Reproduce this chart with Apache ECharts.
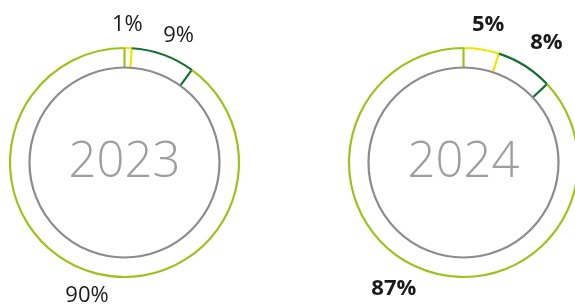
<!DOCTYPE html>
<html><head><meta charset="utf-8">
<script src="https://cdn.jsdelivr.net/npm/echarts@6/dist/echarts.min.js"></script>
<style>html,body{margin:0;padding:0;background:#fff}#c{width:575px;height:305px}</style>
</head><body><div id="c"></div>
<script>
// ---- data ----
const years = ['2023', '2024'];
const segmentNames = ['Yellow', 'Dark green', 'Light green'];
const values2023 = [1, 9, 90];
const values2024 = [5, 8, 87];
const labels2023 = ['1%', '9%', '90%'];
const labels2024 = ['5%', '8%', '87%'];

// ---- styles ----
const segColors = ['#f2e400', '#156f38', '#9cc31c'];
const ringGrey = '#8c8c8c';
const yearGrey = '#9e9e9e';
const R_OUT = 114.5, R_IN = 95, R_LAB = 139;
const labelWeights = [400, 700];
const labelNudge = [
  [[-1.5, 1.5], [7, 4], [5.5, 1.5]],
  [[3, 0], [8.5, -2.5], [-14.5, -1.5]]
];
const FONT = '"Open Sans", "Noto Sans", sans-serif';

const allValues = [values2023, values2024];
const allLabels = [labels2023, labels2024];

function buildData(values, yi) {
  let acc = 0;
  return values.map((v, i) => {
    const s = acc; acc += v;
    return { name: segmentNames[i], value: [s, acc, i, yi] };
  });
}

function renderItem(params, api) {
  const start = api.value(0), end = api.value(1);
  const i = api.value(2), yi = api.value(3);
  const cs = params.coordSys;
  const cx = cs.cx, cy = cs.cy;
  const p0 = api.coord([R_OUT, start]);
  const p1 = api.coord([R_OUT, end]);
  const q1 = api.coord([R_IN, end]);
  const a0 = Math.atan2(p0[1] - cy, p0[0] - cx);
  let a1 = Math.atan2(p1[1] - cy, p1[0] - cx);
  while (a1 <= a0 + 1e-6) a1 += Math.PI * 2;
  const rOut = Math.hypot(p0[0] - cx, p0[1] - cy);
  const color = segColors[i];
  const children = [
    { type: 'arc', shape: { cx: cx, cy: cy, r: rOut, startAngle: a0, endAngle: a1, clockwise: true },
      style: { stroke: color, lineWidth: 2.2, fill: null } },
    { type: 'line', shape: { x1: q1[0], y1: q1[1], x2: p1[0], y2: p1[1] },
      style: { stroke: color, lineWidth: 2.2 } }
  ];
  const pl = api.coord([R_LAB, (start + end) / 2]);
  const nud = labelNudge[yi][i];
  children.push({
    type: 'text', x: pl[0] + nud[0], y: pl[1] + nud[1], z2: 20,
    style: { text: allLabels[yi][i], align: 'center', verticalAlign: 'middle',
      fontSize: 22, fontFamily: FONT, fontWeight: labelWeights[yi], fill: '#1a1a1a' }
  });
  if (i === 0) {
    const qi = api.coord([R_IN, 0]);
    const rIn = Math.hypot(qi[0] - cx, qi[1] - cy);
    children.push({ type: 'circle', z2: 10, shape: { cx: cx, cy: cy, r: rIn },
      style: { stroke: ringGrey, lineWidth: 2.2, fill: null } });
    children.push({ type: 'text', x: cx, y: cy + 1, z2: 20,
      style: { text: years[yi], align: 'center', verticalAlign: 'middle',
        fontSize: 49, fontFamily: FONT, fontWeight: 300, fill: yearGrey } });
  }
  return { type: 'group', children: children };
}

const chart = echarts.init(document.getElementById('c'), null, { renderer: 'canvas' });
chart.setOption({
  animation: false,
  backgroundColor: '#fff',
  polar: [
    { center: [124.5, 162.5], radius: [0, 160] },
    { center: [463.5, 162.5], radius: [0, 160] }
  ],
  angleAxis: [0, 1].map(k => ({ polarIndex: k, type: 'value', min: 0, max: 100, startAngle: 90, clockwise: true, show: false })),
  radiusAxis: [0, 1].map(k => ({ polarIndex: k, type: 'value', min: 0, max: 160, show: false })),
  series: [0, 1].map(k => ({
    type: 'custom', name: years[k], coordinateSystem: 'polar', polarIndex: k,
    renderItem: renderItem, clip: false, silent: true,
    data: buildData(allValues[k], k)
  }))
});
</script></body></html>
